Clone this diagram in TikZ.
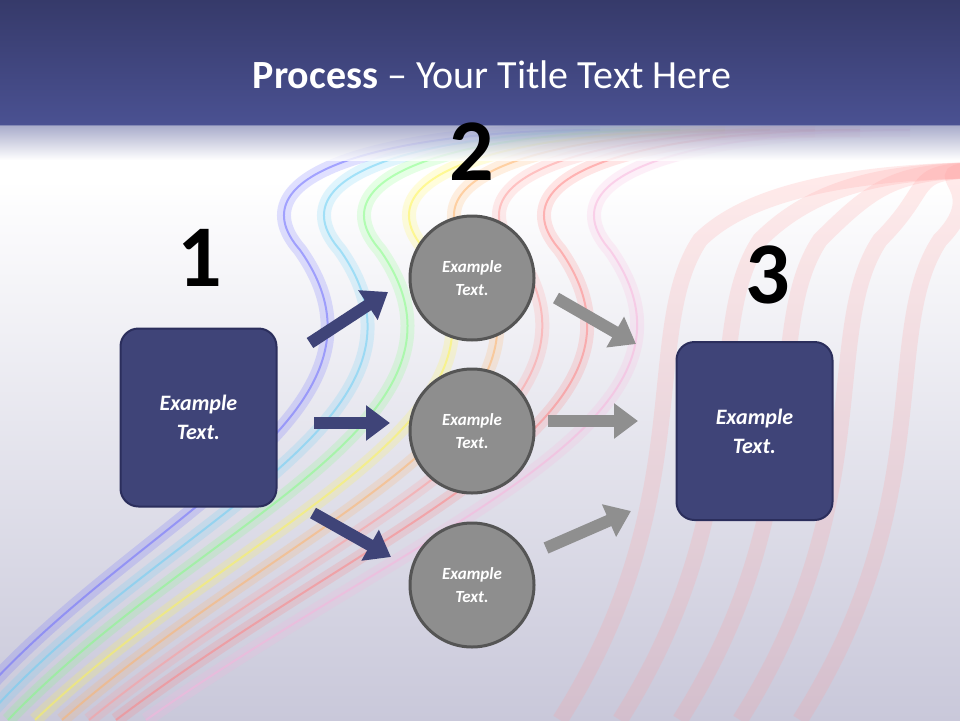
\documentclass[tikz,border=0pt]{standalone}
\usepackage{fontspec}
\setmainfont{Carlito}
\usetikzlibrary{arrows.meta}
\definecolor{navy}{HTML}{3F4478}
\definecolor{navyb}{HTML}{2B2E5C}
\definecolor{topa}{HTML}{363A6A}
\definecolor{topb}{HTML}{4A5192}
\definecolor{gcirc}{HTML}{8E8E8E}
\definecolor{gedge}{HTML}{555555}
\definecolor{garrow}{HTML}{8F8F8F}
\definecolor{bgl}{HTML}{C9C8DA}
\begin{document}
\begin{tikzpicture}[x=1pt,y=-1pt,
  box/.style={draw=navyb,line width=2pt,fill=navy,rounded corners=18pt,minimum width=156pt,minimum height=178pt,text=white,font=\fontsize{22}{29}\selectfont\bfseries\itshape,align=center},
  circ/.style={circle,draw=gedge,line width=3pt,fill=gcirc,minimum size=124pt,text=white,font=\fontsize{17}{23}\selectfont\bfseries\itshape,align=center},
  num/.style={font=\fontsize{88}{88}\selectfont\bfseries,text=black},
  barrow/.style={line width=12pt,-{Triangle[length=24pt,width=34pt]},navy},
  garr/.style={line width=12pt,-{Triangle[length=24pt,width=34pt]},garrow}]
\useasboundingbox (0,0) rectangle (960,720);
% background
\shade[top color=white,bottom color=bgl] (0,180) rectangle (960,720);
\fill[white] (0,125) rectangle (960,180);
% rainbow bands
\foreach \c/\o in {blue!60/0,cyan!60/40,green!50/80,yellow!70/125,orange!60/170,red!40/215,red!50/260,magenta!30/310}{
  \draw[\c,line width=14pt,opacity=0.2] (-40+\o*0.6,720) .. controls (120+\o,520) and (420+\o,420) .. (300+\o,250) .. controls (230+\o,170) and (400+\o,130) .. (600+\o,130);
  \draw[\c,line width=2pt,opacity=0.5] (-40+\o*0.6,720) .. controls (120+\o,520) and (420+\o,420) .. (300+\o,250) .. controls (230+\o,170) and (400+\o,130) .. (600+\o,130);
}
\foreach \o in {0,60,120,180,240}{
  \draw[red!40,line width=16pt,opacity=0.2] (560+\o,720) .. controls (700+\o,500) and (640+\o,330) .. (700+\o,240) .. controls (760+\o,180) and (900,170) .. (1000,170);
}
% title band
\shade[top color=topa,bottom color=topb] (0,0) rectangle (960,125);
\shade[top color=topb!60!white,bottom color=white,opacity=0.8] (0,125) rectangle (960,160);
\node[text=white,font=\fontsize{40}{46}\selectfont] (title) at (492,75) {\textbf{Process} -- Your Title Text Here};
% numbers
\node[num] (n1) at (200,258) {1};
\node[num] (n2) at (472,152) {2};
\node[num] (n3) at (768,275) {3};
% boxes
\node[box] (b1) at (198.5,417.5) {Example\\Text.};
\node[box] (b3) at (754.5,431) {Example\\Text.};
\node[circ] (c1) at (472,278) {Example\\Text.};
\node[circ] (c2) at (472,431) {Example\\Text.};
\node[circ] (c3) at (472,585) {Example\\Text.};
% arrows
\coordinate (a1s) at (310,343); \coordinate (a1e) at (388,292);
\coordinate (a2s) at (314,423); \coordinate (a2e) at (390,423);
\coordinate (a3s) at (313,513); \coordinate (a3e) at (391,557);
\coordinate (g1s) at (556,298); \coordinate (g1e) at (636,344);
\coordinate (g2s) at (548,421); \coordinate (g2e) at (638,421);
\coordinate (g3s) at (546,548); \coordinate (g3e) at (631,511);
\draw[barrow] (a1s) -- (a1e);
\draw[barrow] (a2s) -- (a2e);
\draw[barrow] (a3s) -- (a3e);
\draw[garr] (g1s) -- (g1e);
\draw[garr] (g2s) -- (g2e);
\draw[garr] (g3s) -- (g3e);
\end{tikzpicture}
\end{document}
